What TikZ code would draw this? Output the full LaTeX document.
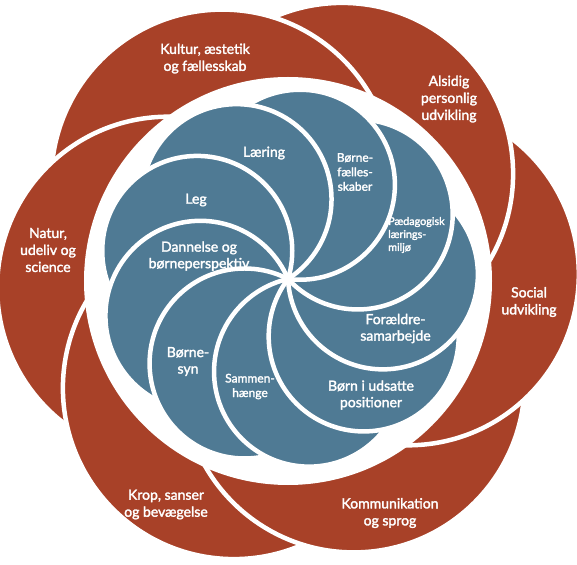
\documentclass[tikz,border=0pt]{standalone}
\usepackage{fontspec}
\setmainfont{Lato}[FakeBold=2]
\definecolor{outer}{HTML}{A84128}
\definecolor{inner}{HTML}{4F7A94}

\begin{document}
\begin{tikzpicture}[x=1pt,y=1pt,
    seam/.style={draw=white,line width=4.5pt},
    redlbl/.style={text=white,align=center,inner sep=0pt,font=\fontsize{14}{17}\selectfont},
    bluelbl/.style={text=white,align=center,inner sep=0pt,font=\fontsize{14}{16.5}\selectfont},
    midlbl/.style={text=white,align=center,inner sep=0pt,font=\fontsize{12}{14.5}\selectfont},
    tinylbl/.style={text=white,align=left,inner sep=0pt,font=\fontsize{10.8}{13}\selectfont}]
  \def\Rout{171}   % outer circles
  \def\dout{120}
  \def\aout{63.2}
  \def\rin{95}     % inner circles
  \def\ain{2.8}
  \def\disc{204}
  \useasboundingbox (-288,-283) rectangle (289,281);
  \coordinate (ctr) at (0,0);
  \coordinate (hub) at (0,2);
  % outer ring: each circle minus its ccw neighbour
  \foreach \k in {0,...,5}{
    \begin{scope}[even odd rule]
      \clip (-300,-300) rectangle (300,300)
        ({\aout+60*(\k+1)}:\dout pt) circle[radius=\Rout pt];
      \fill[outer] ({\aout+60*\k}:\dout pt) circle[radius=\Rout pt];
    \end{scope}}
  \foreach \k in {0,...,5}{
    \begin{scope}[even odd rule]
      \clip (-300,-300) rectangle (300,300)
        ({\aout+60*(\k+1)}:\dout pt) circle[radius=\Rout pt];
      \draw[seam] ({\aout+60*\k}:\dout pt) circle[radius=\Rout pt];
    \end{scope}}
  \fill[white] (ctr) circle[radius=\disc pt];
  % inner swirl
  \begin{scope}[shift={(hub)}]
    \foreach \k in {0,...,8}{
      \begin{scope}[even odd rule]
        \clip (-300,-300) rectangle (300,300)
          ({\ain+40*(\k+1)}:\rin pt) circle[radius=\rin pt];
        \fill[inner] ({\ain+40*\k}:\rin pt) circle[radius=\rin pt];
      \end{scope}}
    \foreach \k in {0,...,8}{
      \begin{scope}[even odd rule]
        \clip (-300,-300) rectangle (300,300)
          ({\ain+40*(\k+1)}:\rin pt) circle[radius=\rin pt];
        \draw[seam] ({\ain+40*\k}:\rin pt) circle[radius=\rin pt];
      \end{scope}}
  \end{scope}
  % outer labels
  \node[redlbl] (kultur) at (-83,222.5) {Kultur, æstetik\\og fællesskab};
  \node[redlbl] (alsidig) at (161,182) {Alsidig\\personlig\\udvikling};
  \node[redlbl] (natur) at (-240,31) {Natur,\\udeliv og\\science};
  \node[redlbl] (social) at (241,-21) {Social\\udvikling};
  \node[redlbl] (krop) at (-122,-223.5) {Krop, sanser\\og bevægelse};
  \node[redlbl] (komm) at (102,-232) {Kommunikation\\og sprog};
  % inner labels
  \node[bluelbl] (laering) at (-24,128) {Læring};
  \node[midlbl] (faelles) at (67,109) {Børne-\\fælles-\\skaber};
  \node[tinylbl,anchor=west] (miljo) at (100,46) {Pædagogisk\\lærings-\\miljø};
  \node[bluelbl] (leg) at (-92,81) {Leg};
  \node[bluelbl] (dannelse) at (-89,25) {Dannelse og\\børneperspektiv};
  \node[bluelbl] (syn) at (-100,-80.5) {Børne-\\syn};
  \node[midlbl] (sammen) at (-38,-105.5) {Sammen-\\hænge};
  \node[bluelbl] (udsatte) at (83,-114) {Børn i udsatte\\positioner};
  \node[bluelbl] (foraeldre) at (107.5,-47.5) {Forældre-\\samarbejde};
\end{tikzpicture}
\end{document}
